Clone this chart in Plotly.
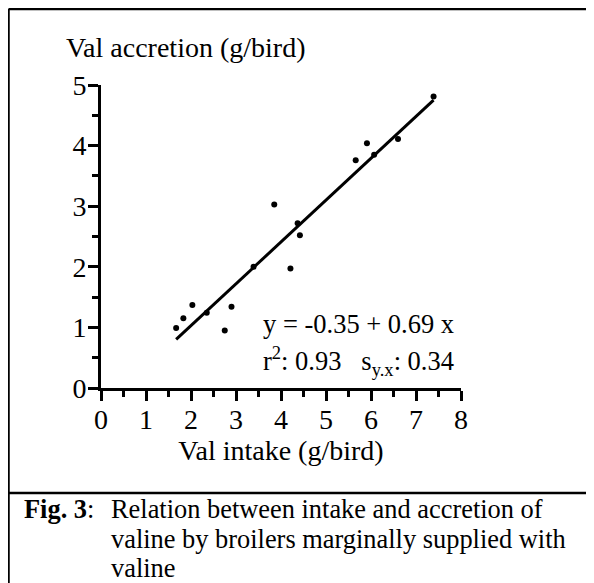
import plotly.graph_objects as go

# ---- data ----
val_intake = [1.67, 1.83, 2.03, 2.35, 2.75, 2.90, 3.39, 3.85, 4.21, 4.37, 4.42, 5.66, 5.91, 6.07, 6.60, 7.39]
val_accretion = [0.99, 1.15, 1.37, 1.24, 0.95, 1.34, 2.00, 3.03, 1.97, 2.72, 2.52, 3.76, 4.04, 3.85, 4.11, 4.81]
intercept = -0.35
slope = 0.69
x_ticks = [0, 1, 2, 3, 4, 5, 6, 7, 8]
y_ticks = [0, 1, 2, 3, 4, 5]

y_title = "Val accretion (g/bird)"
x_title = "Val intake (g/bird)"
eq_line1 = "y = -0.35 + 0.69 x"
eq_line2 = "r<sup>2</sup>: 0.93   s<sub>y.x</sub>: 0.34"
caption_label = "<b>Fig. 3</b>:"
caption_lines = [
    "Relation between intake and accretion of",
    "valine by broilers marginally supplied with",
    "valine",
]

# ---- layout geometry (page pixels; the page body has an 8px margin) ----
OFF = 8
W_PX, H_PX = 594 - OFF, 583 - OFF
L, R_EDGE = 101 - OFF, 461 - OFF
T, B = 85 - OFF, 388 - OFF
PW, PH = R_EDGE - L, B - T

def px(x):
    return (x - OFF - L) / PW

def py(y):
    return (B - (y - OFF)) / PH

FONT = "Liberation Serif, Times New Roman, serif"

fit_x = [min(val_intake), max(val_intake)]
fit_y = [intercept + slope * v for v in fit_x]

fig = go.Figure()
fig.add_trace(go.Scatter(x=fit_x, y=fit_y, mode="lines",
                         line=dict(color="black", width=3), hoverinfo="skip"))
fig.add_trace(go.Scatter(x=val_intake, y=val_accretion, mode="markers",
                         marker=dict(color="black", size=6)))

axis_common = dict(
    showgrid=False, zeroline=False, showline=True, linecolor="black", linewidth=3,
    ticks="outside", ticklen=10, tickwidth=3, tickcolor="black",
    tickfont=dict(family=FONT, size=28, color="black"),
    minor=dict(ticks="outside", ticklen=6, tickwidth=3, tickcolor="black", dtick=0.5),
    automargin=False,
)

fig.update_xaxes(range=[0, 8], tickmode="array", tickvals=x_ticks,
                 ticklabelstandoff=-6,
                 title=dict(text=x_title, font=dict(family=FONT, size=28, color="black"), standoff=4),
                 **axis_common)
fig.update_yaxes(range=[0, 5], tickmode="array", tickvals=y_ticks,
                 ticklabelstandoff=-4, **axis_common)

annotations = [
    dict(text=y_title, x=px(64), y=py(48), xanchor="left", yanchor="middle", size=28),
    dict(text=eq_line1, x=px(261), y=py(324), xanchor="left", yanchor="middle", size=26.5),
    dict(text=eq_line2, x=px(261), y=py(361), xanchor="left", yanchor="middle", size=26.5),
    dict(text=caption_label, x=px(22), y=py(509), xanchor="left", yanchor="middle", size=26.4),
]
for i, line in enumerate(caption_lines):
    annotations.append(dict(text=line, x=px(109), y=py(509 + 29.5 * i),
                            xanchor="left", yanchor="middle", size=26.4))
for a in annotations:
    size = a.pop("size")
    a.update(xref="paper", yref="paper", showarrow=False,
             font=dict(family=FONT, size=size, color="black"))

shapes = [
    # outer frame: top and left, divider
    dict(type="line", x0=px(8.5), x1=px(620), y0=py(9), y1=py(9)),
    dict(type="line", x0=px(8.5), x1=px(8.5), y0=py(9), y1=py(600)),
    dict(type="line", x0=px(8.5), x1=px(620), y0=py(493), y1=py(493)),
]
for s in shapes:
    s.update(xref="paper", yref="paper", line=dict(color="black", width=2.5))

fig.update_layout(
    width=W_PX, height=H_PX,
    margin=dict(l=L, r=W_PX - R_EDGE, t=T, b=H_PX - B),
    paper_bgcolor="white", plot_bgcolor="white",
    showlegend=False,
    annotations=annotations, shapes=shapes,
    font=dict(family=FONT, color="black"),
)

fig.write_html("out.html")
